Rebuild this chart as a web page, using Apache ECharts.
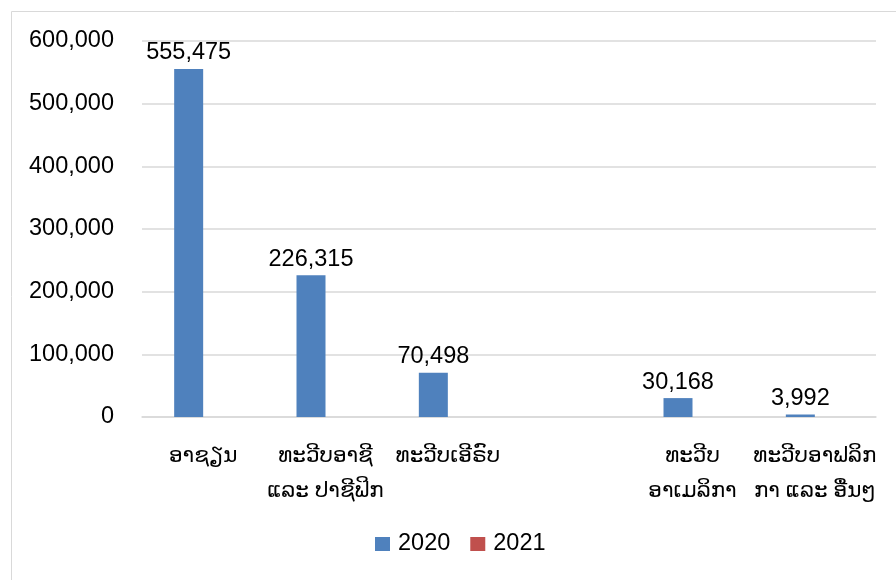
<!DOCTYPE html>
<html>
<head>
<meta charset="utf-8">
<script src="https://cdn.jsdelivr.net/npm/echarts@6/dist/echarts.min.js"></script>
<style>
html,body{margin:0;padding:0;background:#fff;}
#chart{width:896px;height:580px;}
</style>
</head>
<body>
<div id="chart"></div>
<script>
// regions (the 4th slot is empty in the source chart)
var categories = ['ອາຊຽນ', 'ທະວີບອາຊີ\nແລະ ປາຊີຟິກ', 'ທະວີບເອີຣົບ', '', 'ທະວີບ\nອາເມລິກາ', 'ທະວີບອາຟລິກ\nກາ ແລະ ອື່ນໆ'];
var values2020 = [555475, 226315, 70498, null, 30168, 3992];
var values2021 = [null, null, null, null, null, null];
var seriesNames = ['2020', '2021'];
var yTicks = [0, 100000, 200000, 300000, 400000, 500000, 600000];

var font = "'Liberation Sans', Arial, 'DejaVu Sans', sans-serif";
var chart = echarts.init(document.getElementById('chart'));

chart.setOption({
	animation: false,
	color: ['#4f81bd', '#c0504d'],
	textStyle: { fontFamily: font, color: '#000' },
	graphic: [{
		type: 'rect',
		shape: { x: 11.5, y: 11.5, width: 900, height: 600 },
		style: { fill: 'none', stroke: '#d9d9d9', lineWidth: 1 }
	}],
	legend: {
		left: 370,
		top: 527,
		itemWidth: 15,
		itemHeight: 14,
		itemGap: 20,
		icon: 'rect',
		data: seriesNames,
		textStyle: { fontSize: 23.5, color: '#000', padding: [0, 0, 10, 3] }
	},
	grid: { left: 142, right: 20, top: 41, bottom: 163 },
	xAxis: {
		type: 'category',
		data: categories,
		axisLine: { lineStyle: { color: '#d9d9d9', width: 1.5 } },
		axisTick: { show: false },
		axisLabel: { interval: 0, fontSize: 21.5, lineHeight: 35, margin: 22, color: '#000' }
	},
	yAxis: {
		type: 'value',
		min: yTicks[0],
		max: yTicks[yTicks.length - 1],
		interval: yTicks[1] - yTicks[0],
		axisLine: { show: false },
		axisTick: { show: false },
		splitLine: { lineStyle: { color: '#d9d9d9', width: 1.5 } },
		axisLabel: {
			fontSize: 23.5, margin: 28, color: '#000',
			formatter: function (v) { return v.toLocaleString('en-US'); }
		}
	},
	series: [{
		name: seriesNames[0],
		type: 'bar',
		data: values2020,
		barWidth: 29,
		barGap: '0%',
		label: {
			show: true, position: 'top', distance: 4, fontSize: 23.5, color: '#000',
			formatter: function (p) { return p.value.toLocaleString('en-US'); }
		}
	}, {
		name: seriesNames[1],
		type: 'bar',
		data: values2021,
		barWidth: 29
	}]
});
</script>
</body>
</html>
